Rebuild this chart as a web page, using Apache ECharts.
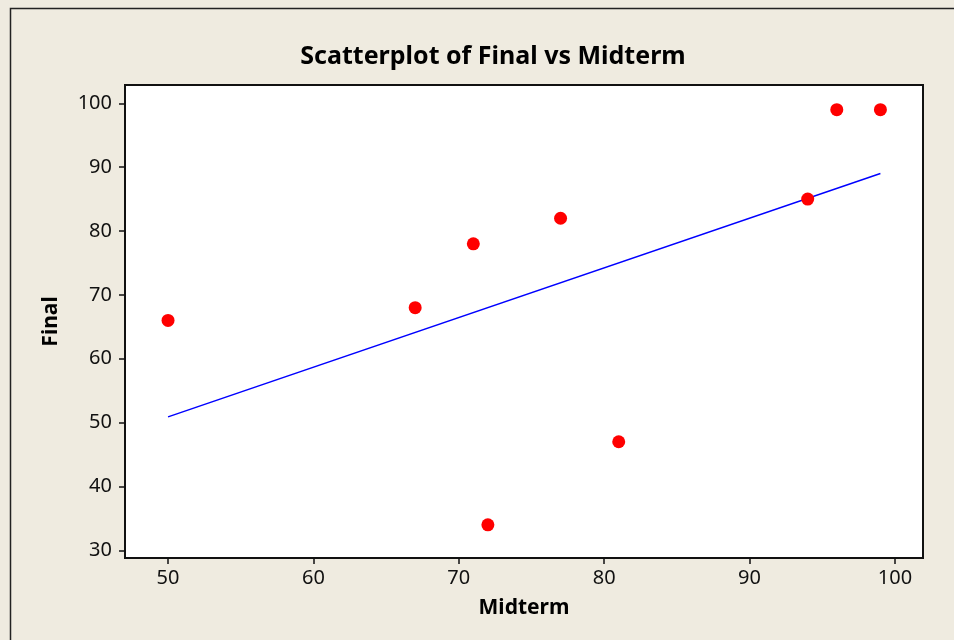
<!DOCTYPE html>
<html>
<head>
<meta charset="utf-8">
<script src="https://cdn.jsdelivr.net/npm/echarts@6/dist/echarts.min.js"></script>
<style>
html,body{margin:0;padding:0;background:#efebe0;}
#chart{width:954px;height:640px;}
</style>
</head>
<body>
<div id="chart"></div>
<script>
const midterm = [50, 67, 71, 72, 77, 81, 94, 96, 99];
const finalScore = [66, 68, 78, 34, 82, 47, 85, 99, 99];
const fitX = [50, 99];
const fitY = [50.9, 89.0];
const xTicks = [50, 60, 70, 80, 90, 100];
const yTicks = [30, 40, 50, 60, 70, 80, 90, 100];

const FONT = 'Noto Sans';
const chart = echarts.init(document.getElementById('chart'), null, {renderer: 'canvas'});
chart.setOption({
  backgroundColor: '#efebe0',
  animation: false,
  title: {
    text: 'Scatterplot of Final vs Midterm',
    left: 488, top: 39, textAlign: 'center',
    textStyle: {fontFamily: FONT, fontWeight: 'bold', fontSize: 25, color: '#000'}
  },
  graphic: [{
    type: 'rect', shape: {x: 10.5, y: 8.5, width: 1000, height: 700},
    style: {fill: 'none', stroke: '#222', lineWidth: 1.5}, silent: true
  }],
  grid: {
    left: 125, top: 85, right: 31, bottom: 82,
    show: true, backgroundColor: '#fff', borderColor: '#111', borderWidth: 2
  },
  xAxis: {
    type: 'value', min: 47.04, max: 101.93,
    name: 'Midterm', nameLocation: 'middle', nameGap: 40,
    nameTextStyle: {fontFamily: FONT, fontWeight: 'bold', fontSize: 21, color: '#000'},
    axisLine: {show: true, lineStyle: {color: '#111', width: 2}},
    axisTick: {show: true, length: 6, customValues: xTicks, lineStyle: {color: '#111', width: 1.5}},
    axisLabel: {customValues: xTicks, fontFamily: FONT, fontSize: 20, color: '#111', margin: 10},
    splitLine: {show: false}
  },
  yAxis: {
    type: 'value', min: 28.8, max: 102.87,
    name: 'Final', nameLocation: 'middle', nameGap: 63,
    nameTextStyle: {fontFamily: FONT, fontWeight: 'bold', fontSize: 21, color: '#000'},
    axisLine: {show: true, lineStyle: {color: '#111', width: 2}},
    axisTick: {show: true, length: 6, customValues: yTicks, lineStyle: {color: '#111', width: 1.5}},
    axisLabel: {customValues: yTicks, fontFamily: FONT, fontSize: 20, color: '#111', margin: 13},
    splitLine: {show: false}
  },
  series: [
    {
      type: 'line',
      data: fitX.map((x, i) => [x, fitY[i]]),
      symbol: 'none',
      lineStyle: {color: '#0000ff', width: 1.5},
      z: 2
    },
    {
      type: 'scatter',
      data: midterm.map((x, i) => [x, finalScore[i]]),
      symbol: 'circle', symbolSize: 13,
      itemStyle: {color: '#ff0000', opacity: 1},
      z: 3
    }
  ]
});
</script>
</body>
</html>
